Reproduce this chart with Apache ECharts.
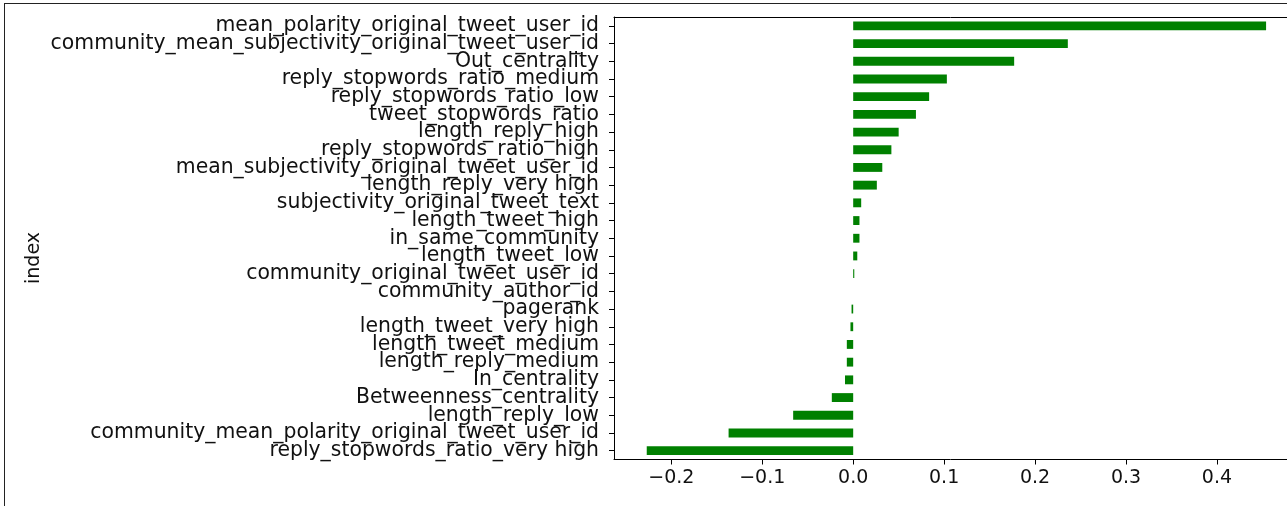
<!DOCTYPE html>
<html>
<head>
<meta charset="utf-8">
<script src="https://cdn.jsdelivr.net/npm/echarts@6/dist/echarts.min.js"></script>
<style>
  html, body { margin: 0; padding: 0; background: #fff; overflow: hidden; }
  #main { position: absolute; left: 0; top: 0; width: 1287px; height: 506px; }
  #frame { position: absolute; left: 4px; top: 3px; width: 1400px; height: 600px;
           border: 1px solid #222; pointer-events: none; }
</style>
</head>
<body>
<div id="main"></div>
<div id="frame"></div>
<script>
// feature names, top to bottom as in the picture
const features = [
  "mean_polarity_original_tweet_user_id",
  "community_mean_subjectivity_original_tweet_user_id",
  "Out_centrality",
  "reply_stopwords_ratio_medium",
  "reply_stopwords_ratio_low",
  "tweet_stopwords_ratio",
  "length_reply_high",
  "reply_stopwords_ratio_high",
  "mean_subjectivity_original_tweet_user_id",
  "length_reply_very high",
  "subjectivity_original_tweet_text",
  "length_tweet_high",
  "in_same_community",
  "length_tweet_low",
  "community_original_tweet_user_id",
  "community_author_id",
  "pagerank",
  "length_tweet_very high",
  "length_tweet_medium",
  "length_reply_medium",
  "In_centrality",
  "Betweenness_centrality",
  "length_reply_low",
  "community_mean_polarity_original_tweet_user_id",
  "reply_stopwords_ratio_very high"
];

const values = [
  0.454, 0.236, 0.177, 0.103, 0.0835, 0.069, 0.050, 0.042, 0.032, 0.026,
  0.0088, 0.0069, 0.0069, 0.0045, 0.0012, 0.0, -0.0018, -0.003, -0.007, -0.007,
  -0.009, -0.0235, -0.066, -0.137, -0.227
];

const xTicks = [-0.2, -0.1, 0.0, 0.1, 0.2, 0.3, 0.4];

const font = "DejaVu Sans";
const chart = echarts.init(document.getElementById("main"));

const fmt = (v) => Number(v).toFixed(1).replace("-", "\u2212");

chart.setOption({
  animation: false,
  backgroundColor: "#fff",
  grid: {
    left: 614,
    right: 0,
    top: 17,
    bottom: 46.5,
    containLabel: false
  },
  xAxis: [
    {
      type: "value",
      min: -0.263,
      max: 0.477,
      axisLine: { show: true, onZero: false, lineStyle: { color: "#000", width: 1 } },
      axisTick: {
        show: true,
        length: 5,
        lineStyle: { color: "#000" },
        customValues: xTicks
      },
      axisLabel: {
        customValues: xTicks,
        formatter: fmt,
        color: "#111",
        fontFamily: font,
        fontSize: 19,
        margin: 9
      },
      splitLine: { show: false }
    },
    {
      // top spine only
      type: "value",
      position: "top",
      min: -0.263,
      max: 0.477,
      axisLine: { show: true, onZero: false, lineStyle: { color: "#000", width: 1 } },
      axisTick: { show: false },
      axisLabel: { show: false },
      splitLine: { show: false }
    }
  ],
  yAxis: {
    type: "category",
    inverse: true,
    data: features,
    axisLine: { show: true, onZero: false, lineStyle: { color: "#000", width: 1 } },
    axisTick: { show: true, alignWithLabel: true, length: 5, lineStyle: { color: "#000" } },
    axisLabel: {
      color: "#111",
      fontFamily: font,
      fontSize: 20.4,
      margin: 15,
      interval: 0
    },
    splitLine: { show: false }
  },
  graphic: [
    {
      type: "text",
      x: 34,
      y: 258,
      rotation: Math.PI / 2,
      style: {
        text: "index",
        fill: "#111",
        font: "19px 'DejaVu Sans'",
        align: "center",
        verticalAlign: "middle"
      }
    }
  ],
  series: [
    {
      type: "bar",
      data: values,
      barWidth: "50%",
      itemStyle: { color: "#008000" }
    }
  ]
});
</script>
</body>
</html>
